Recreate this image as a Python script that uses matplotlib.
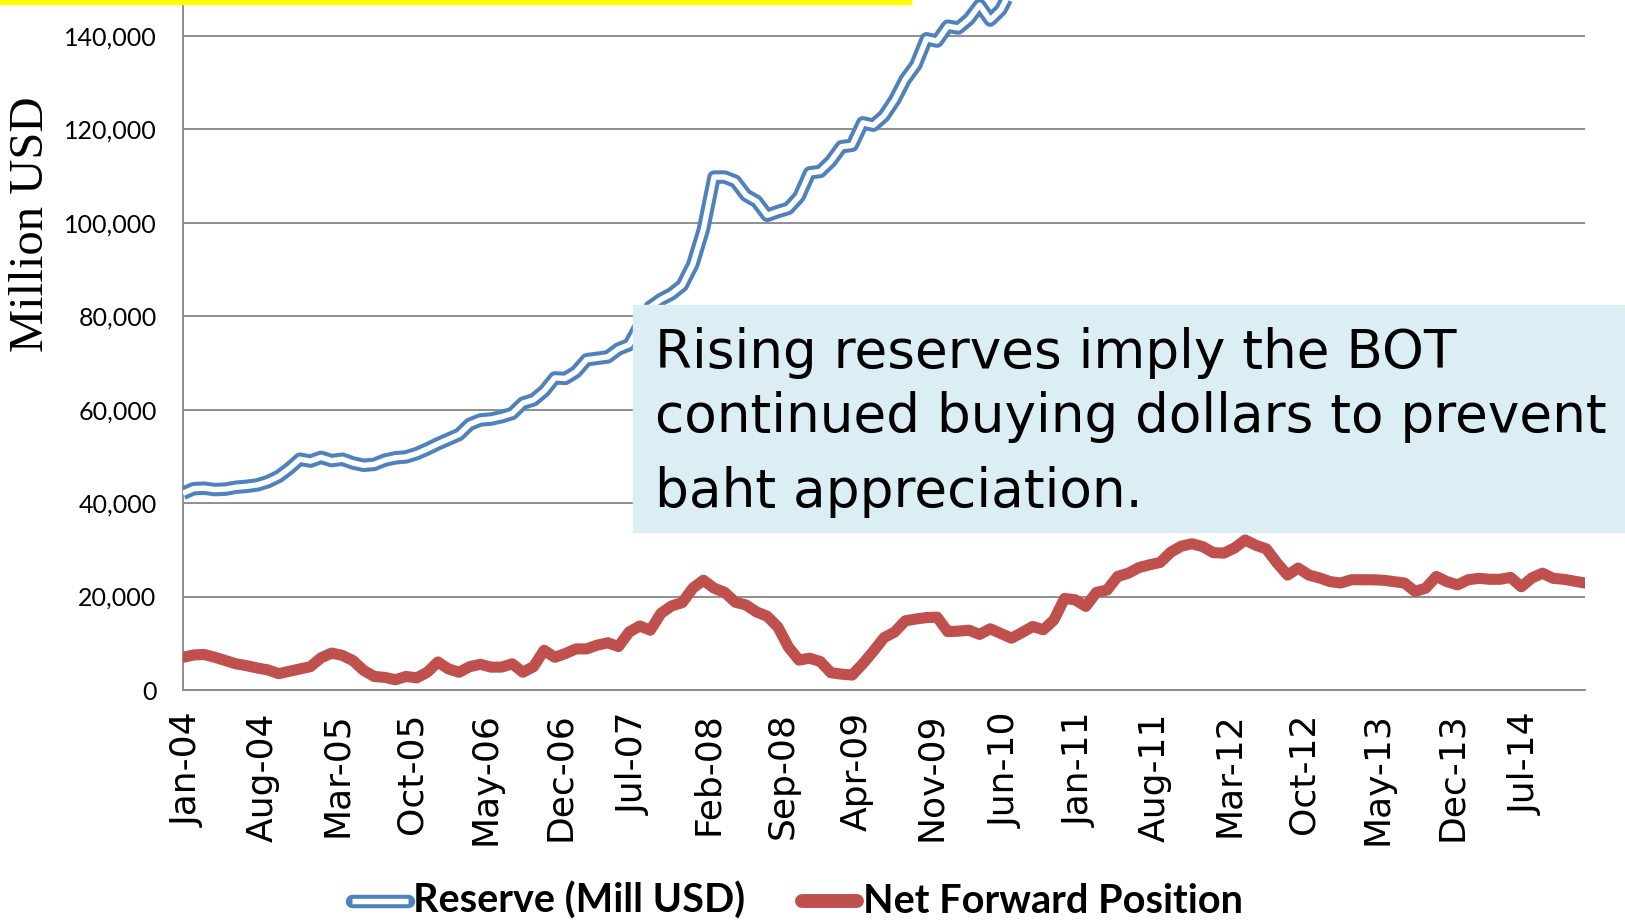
import matplotlib
matplotlib.use("Agg")
import matplotlib.pyplot as plt
import matplotlib.transforms as mtransforms
from matplotlib.lines import Line2D
from matplotlib.patches import Rectangle
from matplotlib.ticker import FuncFormatter
import numpy as np

# monthly data Jan-04 .. Jan-15, million USD
reserve = [
    42.1, 43.1, 43.2, 42.9, 43.0, 43.4, 43.6, 43.9, 44.6, 45.7, 47.4, 49.4,
    49.0, 49.8, 49.1, 49.4, 48.6, 48.1, 48.3, 49.2, 49.7, 49.9, 50.6, 51.6,
    52.7, 53.7, 54.7, 56.9, 57.8, 58.0, 58.5, 59.2, 61.4, 62.1, 64.0, 66.8,
    66.7, 68.1, 70.7, 71.0, 71.3, 73.0, 73.9, 78.0, 82.0, 83.6, 84.8, 86.6,
    91.1, 98.6, 109.8, 109.8, 108.9, 105.9, 104.6, 101.6, 102.4, 103.1, 105.6, 110.7,
    111.0, 113.2, 116.3, 116.6, 121.4, 120.9, 122.9, 126.3, 130.7, 133.8, 139.4, 138.9,
    142.1, 141.7, 143.6, 146.6, 143.4, 145.6, 150.0, 154.0, 156.0, 163.0, 160.0, 172.0,
    173.0, 174.0, 178.0, 186.0, 184.0, 183.0, 188.0, 189.0, 177.0, 180.0, 176.0, 175.0,
    178.0, 181.0, 178.0, 178.0, 174.0, 176.0, 177.0, 178.0, 182.0, 181.0, 180.0, 181.0,
    182.0, 179.0, 177.0, 178.0, 172.0, 170.0, 168.0, 166.0, 167.0, 168.0, 166.0, 167.0,
    162.0, 165.0, 167.0, 166.0, 167.0, 168.0, 164.0, 163.0, 160.0, 160.0, 157.0, 157.0,
    158.0,
]
net_forward = [
    7.0, 7.5, 7.6, 7.0, 6.3, 5.6, 5.2, 4.7, 4.3, 3.5, 4.0, 4.5,
    5.0, 6.9, 7.9, 7.4, 6.3, 4.2, 2.9, 2.7, 2.2, 2.9, 2.6, 3.8,
    6.0, 4.5, 3.8, 5.0, 5.5, 4.9, 4.9, 5.6, 3.8, 5.0, 8.5, 7.0,
    7.8, 8.8, 8.8, 9.6, 10.1, 9.3, 12.4, 13.7, 12.8, 16.4, 18.0, 18.7,
    21.8, 23.5, 21.8, 20.9, 18.8, 18.2, 16.7, 15.8, 13.5, 9.2, 6.4, 6.8,
    6.1, 3.7, 3.4, 3.2, 5.6, 8.3, 11.2, 12.4, 14.8, 15.2, 15.5, 15.6,
    12.5, 12.6, 12.8, 11.9, 13.1, 12.1, 11.1, 12.3, 13.6, 12.9, 15.0, 19.6,
    19.3, 17.9, 20.9, 21.4, 24.3, 25.0, 26.2, 26.8, 27.3, 29.5, 30.8, 31.3,
    30.7, 29.4, 29.3, 30.4, 32.1, 31.0, 30.2, 27.2, 24.6, 26.1, 24.6, 24.0,
    23.2, 22.9, 23.6, 23.6, 23.6, 23.5, 23.2, 22.9, 21.1, 21.8, 24.3, 23.2,
    22.5, 23.6, 23.9, 23.7, 23.7, 24.1, 22.1, 24.0, 25.0, 23.9, 23.7, 23.3,
    22.9,
]
tick_labels = ['Jan-04', 'Aug-04', 'Mar-05', 'Oct-05', 'May-06', 'Dec-06', 'Jul-07',
               'Feb-08', 'Sep-08', 'Apr-09', 'Nov-09', 'Jun-10', 'Jan-11', 'Aug-11',
               'Mar-12', 'Oct-12', 'May-13', 'Dec-13', 'Jul-14']
y_ticks = [0, 20000, 40000, 60000, 80000, 100000, 120000, 140000]
note_lines = ['Rising reserves imply the BOT',
              'continued buying dollars to prevent',
              'baht appreciation.']

reserve = np.array(reserve) * 1000
net_forward = np.array(net_forward) * 1000
x = np.arange(len(reserve))

blue = '#4F81BD'
red = '#C0504D'
gray = '#868686'

fig = plt.figure(figsize=(16.25, 9.22), dpi=100)
ax = fig.add_axes([183 / 1625, 1 - 690 / 922, (1585 - 183) / 1625, 690 / 922])

ax.plot(x, reserve, color=blue, lw=9.7, solid_joinstyle='round', solid_capstyle='butt', zorder=3)
ax.plot(x, reserve, color='white', lw=3.9, solid_joinstyle='round', solid_capstyle='butt', zorder=4)
ax.plot(x, net_forward, color=red, lw=8, solid_joinstyle='round', solid_capstyle='round', zorder=3)

ax.set_xlim(0, len(x) - 1)
ax.set_ylim(0, 147700)
ax.set_yticks(y_ticks)
ax.yaxis.set_major_formatter(FuncFormatter(lambda v, p: f'{int(v):,}'))
ax.set_xticks(np.arange(0, 7 * len(tick_labels), 7))
ax.set_xticklabels(tick_labels, rotation=90, fontsize=26, family='DejaVu Sans', va='top', ha='center')
ax.tick_params(axis='x', length=0, pad=16)
ax.tick_params(axis='y', length=0, pad=19, labelsize=18)
shift = mtransforms.ScaledTranslation(5 / 100, 0, fig.dpi_scale_trans)
for lab in ax.get_xticklabels():
    lab.set_transform(lab.get_transform() + shift)
for lab in ax.get_yticklabels():
    lab.set_family(['Lato', 'DejaVu Sans'])
ax.grid(axis='y', color=gray, lw=1.3)
ax.set_axisbelow(True)
for s in ['top', 'right']:
    ax.spines[s].set_visible(False)
for s in ['left', 'bottom']:
    ax.spines[s].set_color(gray)
    ax.spines[s].set_linewidth(1.3)

fig.text(31 / 1625, 1 - 224 / 922, 'Million USD', rotation=90, ha='center', va='center',
         fontsize=35, family=['Liberation Serif', 'DejaVu Serif'])

# yellow strip on the slide
fig.add_artist(Rectangle((0, 1 - 4 / 922), 911 / 1625, 4 / 922, transform=fig.transFigure,
                         color='#FFFF00', zorder=10))

# note box
fig.add_artist(Rectangle((633 / 1625, 1 - 532 / 922), 1 - 633 / 1625, (532 - 305) / 922,
                         transform=fig.transFigure, color='#DAEEF3', zorder=10))
for line, ypx in zip(note_lines, [368, 432, 507]):
    fig.text(655 / 1625, 1 - ypx / 922, line, fontsize=38.3, family='DejaVu Sans',
             va='baseline', ha='left', zorder=11)

# legend
ly = 1 - 901 / 922
fig.add_artist(Line2D([352 / 1625, 408 / 1625], [ly, ly], transform=fig.transFigure,
                      color=blue, lw=9.7, solid_capstyle='round', zorder=10))
fig.add_artist(Line2D([352 / 1625, 408 / 1625], [ly, ly], transform=fig.transFigure,
                      color='white', lw=3.9, solid_capstyle='butt', zorder=11))
fig.add_artist(Line2D([802 / 1625, 857 / 1625], [ly, ly], transform=fig.transFigure,
                      color=red, lw=10, solid_capstyle='round', zorder=10))
leg_font = ['Lato', 'DejaVu Sans']
fig.text(413 / 1625, ly, 'Reserve (Mill USD)', fontsize=28.5, weight='bold', family=leg_font,
         va='center', ha='left')
fig.text(863 / 1625, ly, 'Net Forward Position', fontsize=28.5, weight='bold', family=leg_font,
         va='center', ha='left')

fig.savefig('out.png', dpi=100)
